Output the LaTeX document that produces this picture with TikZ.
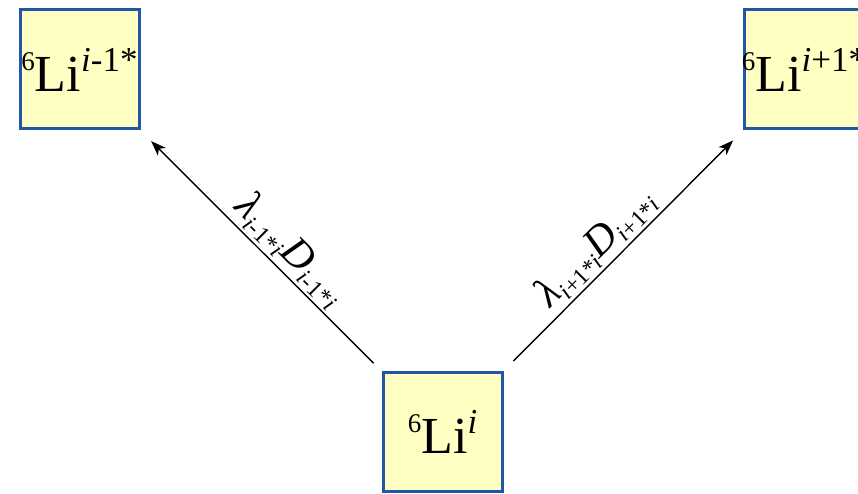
\documentclass[tikz,border=0pt]{standalone}
\usepackage{fontspec}
\setmainfont{Liberation Serif}
\usetikzlibrary{arrows.meta}
\definecolor{boxblue}{HTML}{2156A5}
\definecolor{boxfill}{HTML}{FFFFC4}
\newcommand\isosup[1]{\raisebox{21pt}{\fontsize{27}{27}\selectfont #1}}
\newcommand\stsup[1]{\raisebox{20pt}{\fontsize{35}{35}\selectfont #1}}
\newcommand\lblsub[1]{\raisebox{-7pt}{\fontsize{24}{24}\selectfont #1}}
\begin{document}
\begin{tikzpicture}[x=1pt,y=-1pt,
  lifebox/.style={draw=boxblue, line width=3pt, fill=boxfill, minimum width=119pt,
    minimum height=119pt, inner sep=0pt, font=\fontsize{52}{52}\selectfont},
  arr/.style={line width=1.4pt, -{Stealth[length=15pt,width=11pt,inset=4pt]}},
  lab/.style={sloped, above, inner sep=3pt, font=\fontsize{42}{42}\selectfont}]
\useasboundingbox (0,0) rectangle (858,494);
\node[lifebox] (l) at (79.5,69.5) {\makebox[0pt][c]{\isosup{6}Li\stsup{\textit{i}-1*}}};
\node[lifebox] (r) at (804,69.5) {\makebox[0pt][c]{\isosup{6}Li\stsup{\textit{i}+1*}}};
\node[lifebox] (b) at (442.5,432) {\makebox[0pt][c]{\isosup{6}Li\stsup{\textit{i}}}};
\draw[arr, shorten <=11pt, shorten >=15pt] (b.north west) --
  node[lab, pos=0.44] {\textit{λ}\lblsub{\textit{i}-1*\textit{i}}\textit{D}\lblsub{\textit{i}-1*\textit{i}}} (l.south east);
\draw[arr, shorten <=14pt, shorten >=14pt] (b.north east) --
  node[lab, pos=0.45] {\textit{λ}\lblsub{\textit{i}+1*\textit{i}}\textit{D}\lblsub{\textit{i}+1*\textit{i}}} (r.south west);
\end{tikzpicture}
\end{document}
